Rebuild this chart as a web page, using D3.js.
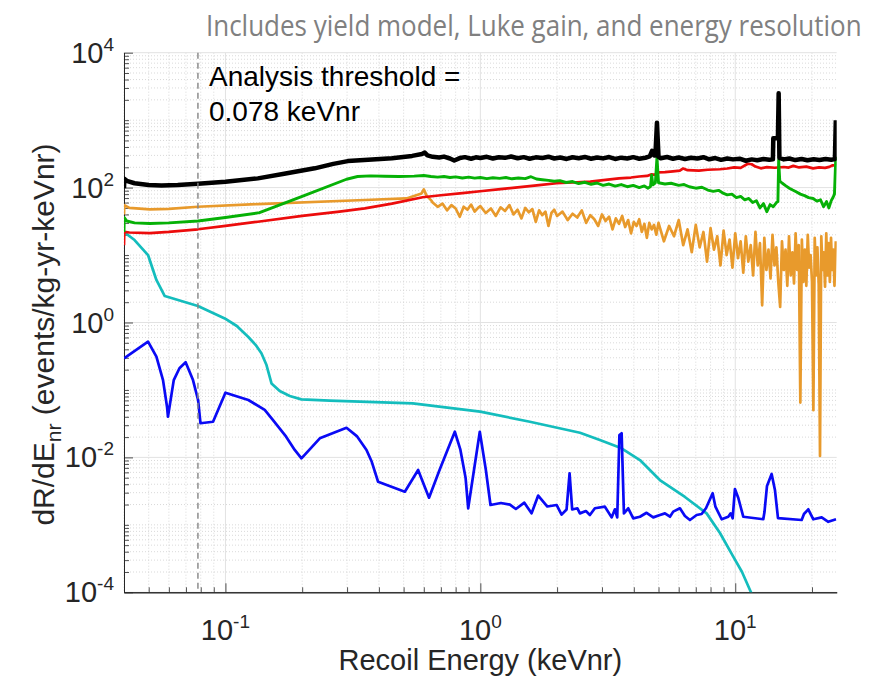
<!DOCTYPE html>
<html>
<head>
<meta charset="utf-8">
<script src="https://cdn.jsdelivr.net/npm/d3@7"></script>
<style>
  html, body { margin: 0; padding: 0; background: #fff; }
  svg { display: block; }
</style>
</head>
<body>
<svg id="chart" width="872" height="679"></svg>
<script>
// ---- Spectra: [recoil energy (keVnr), rate (events/kg-yr-keVnr)] ----

// Total rate (sum of all components)
const totalRate = [
  [0.0400, 98], [0.0401, 135], [0.0410, 126], [0.0440, 116], [0.0500, 109], [0.0561, 107],
  [0.0650, 109], [0.0780, 114], [0.100, 122], [0.134, 137], [0.170, 160], [0.224, 193],
  [0.265, 225], [0.302, 247], [0.350, 256], [0.450, 272], [0.540, 295], [0.590, 315],
  [0.605, 330], [0.620, 300], [0.65, 286], [0.69, 279], [0.72, 288], [0.76, 270], [0.79, 252],
  [0.83, 274], [0.87, 283], [0.92, 268], [0.96, 281], [1.00, 274], [1.06, 286], [1.12, 270],
  [1.18, 282], [1.25, 276], [1.32, 289], [1.40, 272], [1.48, 283], [1.56, 268], [1.65, 281],
  [1.75, 275], [1.85, 287], [1.95, 270], [2.06, 279], [2.18, 266], [2.30, 282], [2.43, 273],
  [2.57, 285], [2.72, 268], [2.87, 280], [3.03, 271], [3.20, 284], [3.38, 266], [3.57, 278],
  [3.77, 270], [3.98, 283], [4.20, 268], [4.44, 277], [4.62, 290], [4.72, 352], [4.80, 300],
  [4.86, 300], [4.93, 916], [5.00, 285], [5.10, 272], [5.40, 284], [5.70, 268], [6.00, 279],
  [6.35, 265], [6.70, 277], [7.10, 270], [7.50, 282], [7.90, 263], [8.35, 274], [8.80, 258],
  [9.30, 270], [9.80, 262], [10.4, 268], [11.0, 250], [11.6, 262], [12.2, 255], [12.9, 266],
  [13.6, 258], [14.05, 262], [14.1, 540], [14.7, 545], [14.8, 2500], [14.9, 275], [15.5, 262],
  [16.3, 270], [17.2, 256], [18.2, 266], [19.2, 254], [20.3, 264], [21.4, 257], [22.6, 266],
  [23.8, 258], [24.6, 265], [24.8, 995]
];

// Green component
const greenRate = [
  [0.0400, 22], [0.0401, 36], [0.0410, 32], [0.0440, 30], [0.0505, 29.4], [0.060, 30],
  [0.078, 32], [0.100, 36], [0.136, 42.5], [0.200, 74], [0.2985, 133], [0.33, 146],
  [0.37, 149], [0.42, 147], [0.48, 146], [0.55, 148], [0.60, 151], [0.64, 146], [0.68, 143],
  [0.72, 146], [0.76, 141], [0.80, 144], [0.85, 139], [0.90, 143], [0.95, 138], [1.00, 141],
  [1.06, 136], [1.12, 140], [1.19, 137], [1.26, 141], [1.33, 135], [1.41, 139], [1.50, 136],
  [1.58, 145], [1.66, 134], [1.75, 131], [1.85, 128], [1.95, 124], [2.05, 127], [2.17, 119],
  [2.30, 123], [2.43, 115], [2.57, 120], [2.72, 112], [2.87, 117], [3.03, 108], [3.20, 113],
  [3.38, 105], [3.57, 111], [3.77, 103], [3.98, 108], [4.20, 100], [4.40, 106], [4.55, 98],
  [4.65, 104], [4.70, 154], [4.75, 110], [4.86, 118], [4.93, 281], [5.00, 118], [5.3, 113],
  [5.6, 116], [6.0, 108], [6.3, 111], [6.6, 103], [7.0, 98], [7.4, 101], [7.8, 92], [8.2, 88],
  [8.6, 91], [9.0, 82], [9.3, 78], [9.7, 80], [10.1, 71], [10.5, 74], [10.9, 66], [11.3, 69],
  [11.7, 60], [12.1, 64], [12.5, 50], [12.9, 58], [13.3, 44], [13.7, 56], [14.1, 52],
  [14.5, 60], [14.7, 62], [14.8, 256], [14.95, 125], [15.3, 116], [15.8, 106], [16.3, 98],
  [16.8, 92], [17.4, 86], [18.0, 80], [18.7, 76], [19.4, 71], [20.2, 69], [20.9, 63],
  [21.6, 66], [22.2, 52], [22.8, 62], [23.3, 50], [23.8, 64], [24.2, 72], [24.5, 80], [24.8, 287]
];

// Red component
const redRate = [
  [0.0400, 14], [0.0401, 22], [0.0420, 21.6], [0.0505, 21.2], [0.060, 22], [0.078, 24.1],
  [0.100, 27], [0.134, 31.2], [0.200, 38], [0.280, 44], [0.352, 49.3], [0.450, 58],
  [0.594, 72], [0.700, 77], [0.850, 83], [1.02, 89], [1.20, 95], [1.40, 101], [1.70, 109],
  [1.99, 116], [2.30, 119], [2.70, 123], [3.10, 130], [3.50, 137], [3.90, 141], [4.20, 146],
  [4.50, 149], [4.70, 157], [4.85, 155], [4.95, 168], [5.3, 170], [5.7, 174], [6.06, 178],
  [6.25, 192], [6.5, 181], [7.2, 178], [7.8, 184], [8.7, 187], [9.3, 192], [9.9, 200],
  [10.5, 196], [11.2, 226], [11.6, 222], [12.0, 205], [12.6, 193], [13.3, 201], [14.3, 197],
  [15.5, 202], [16.2, 198], [16.9, 210], [17.8, 199], [19.0, 205], [20.2, 193], [21.3, 200],
  [22.5, 196], [23.4, 203], [24.0, 213], [24.5, 213]
];

// Orange component
const orangeRate = [
  [0.0400, 40], [0.0401, 55], [0.0420, 50], [0.0505, 47.7], [0.060, 48.5], [0.078, 52],
  [0.134, 57], [0.352, 65.5], [0.513, 69], [0.588, 82], [0.600, 94], [0.615, 76], [0.643, 64],
  [0.65, 60], [0.68, 52], [0.71, 58], [0.74, 46], [0.77, 55], [0.80, 49], [0.83, 37], [0.86, 52],
  [0.89, 47], [0.92, 56], [0.95, 44], [0.98, 50], [1.00, 53], [1.05, 42], [1.10, 49], [1.15, 38],
  [1.20, 51], [1.25, 45], [1.30, 55], [1.35, 40], [1.40, 47], [1.45, 35], [1.50, 50], [1.55, 43],
  [1.60, 48], [1.65, 31], [1.70, 46], [1.75, 39], [1.80, 44], [1.85, 27], [1.90, 42], [1.95, 47],
  [2.0, 38], [2.1, 44], [2.2, 33], [2.3, 41], [2.4, 36], [2.5, 46], [2.6, 30], [2.7, 39],
  [2.8, 34], [2.9, 27], [3.0, 40], [3.1, 32], [3.2, 37], [3.3, 24], [3.4, 35], [3.5, 29],
  [3.6, 38], [3.7, 26], [3.8, 33], [3.9, 21], [4.0, 31], [4.1, 27], [4.2, 34], [4.3, 22],
  [4.4, 29], [4.5, 18], [4.6, 30], [4.7, 24], [4.8, 28], [4.9, 20],
  [5.00, 30], [5.25, 16], [5.50, 27], [5.75, 19], [6.00, 33], [6.25, 14], [6.50, 24], [6.75, 11],
  [7.00, 28], [7.25, 13], [7.50, 22], [7.75, 8], [8.00, 25], [8.25, 12], [8.50, 19], [8.75, 7],
  [9.00, 23], [9.25, 10], [9.50, 17], [9.75, 6.5], [10.00, 21], [10.25, 9], [10.50, 16], [10.75, 5.5],
  [11.00, 19], [11.25, 8], [11.50, 14], [11.75, 5], [12.00, 22], [12.25, 7], [12.50, 15], [12.75, 1.8],
  [13.00, 18], [13.25, 6], [13.50, 12], [13.75, 4.5], [14.00, 20], [14.25, 7], [14.50, 13], [14.75, 4],
  [15.00, 1.7], [15.25, 16], [15.50, 6], [15.75, 12], [16.00, 3.5], [16.25, 19], [16.50, 5], [16.75, 11],
  [17.00, 3.8], [17.25, 21], [17.50, 6], [17.75, 14], [18.00, 0.065], [18.25, 17], [18.50, 4], [18.75, 12],
  [19.00, 3.5], [19.25, 20], [19.50, 6.5], [19.75, 10], [20.00, 4], [20.25, 0.05], [20.50, 18], [20.75, 5],
  [21.00, 13], [21.25, 3.6], [21.50, 0.0105], [21.75, 19], [22.00, 6], [22.25, 11], [22.50, 3.4], [22.75, 21],
  [23.00, 5], [23.25, 15], [23.50, 4], [23.75, 18], [24.00, 6], [24.25, 12], [24.50, 3.5], [24.80, 16]
];

// Cyan component
const cyanRate = [
  [0.0400, 22], [0.0440, 16.7], [0.0497, 10], [0.0536, 4.27], [0.0578, 2.47], [0.078, 1.76],
  [0.0994, 1.15], [0.1108, 0.887], [0.1227, 0.615], [0.1315, 0.463], [0.1384, 0.349],
  [0.1449, 0.234], [0.1516, 0.125], [0.1633, 0.0964], [0.1788, 0.0813], [0.1986, 0.0726],
  [0.2564, 0.0693], [0.543, 0.0634], [0.998, 0.0476], [1.564, 0.0338], [2.46, 0.0232],
  [2.944, 0.0181], [3.58, 0.01364], [4.227, 0.00914], [5.06, 0.00462], [6.347, 0.00259],
  [7.72, 0.00148], [8.71, 0.000757], [9.82, 0.000337], [10.63, 0.0002], [11.5, 0.000102],
  [11.95, 0.000069]
];

// Blue component
const blueRate = [
  [0.0400, 0.294], [0.0497, 0.519], [0.0536, 0.311], [0.0569, 0.140], [0.0590, 0.0565],
  [0.0595, 0.0401], [0.0627, 0.140], [0.0660, 0.210], [0.0698, 0.257], [0.0746, 0.140],
  [0.0781, 0.071], [0.0798, 0.0321], [0.0894, 0.0338], [0.1000, 0.091], [0.1230, 0.071],
  [0.1426, 0.0505], [0.1537, 0.0358], [0.1730, 0.0203], [0.187, 0.0129], [0.1987, 0.0097],
  [0.2345, 0.0192], [0.2985, 0.0275], [0.3276, 0.0207], [0.3576, 0.0129], [0.375, 0.0086],
  [0.397, 0.00436], [0.5055, 0.0031], [0.570, 0.0065], [0.629, 0.00253], [0.6935, 0.00667],
  [0.794, 0.024], [0.835, 0.0130], [0.875, 0.0050], [0.896, 0.00176], [0.995, 0.024],
  [1.051, 0.0065], [1.096, 0.00197], [1.204, 0.00211], [1.306, 0.0020], [1.378, 0.00172],
  [1.488, 0.00213], [1.588, 0.00148], [1.686, 0.00272], [1.832, 0.00187], [1.991, 0.00197],
  [2.083, 0.00142], [2.179, 0.00169], [2.239, 0.0058], [2.292, 0.00169], [2.403, 0.00176],
  [2.458, 0.00148], [2.594, 0.0016], [2.69, 0.0014], [2.814, 0.00176], [3.08, 0.00186],
  [3.273, 0.00129], [3.372, 0.0017], [3.443, 0.00129], [3.512, 0.0215], [3.583, 0.0228],
  [3.658, 0.00148], [3.803, 0.00176], [3.979, 0.00125], [4.227, 0.00132], [4.489, 0.00151],
  [4.767, 0.00129], [5.064, 0.0014], [5.298, 0.00148], [5.543, 0.00132], [5.71, 0.00157],
  [6.067, 0.00176], [6.347, 0.00135], [6.64, 0.00118], [7.055, 0.0014], [7.38, 0.00145],
  [7.674, 0.00176], [8.153, 0.00294], [8.36, 0.00186], [8.843, 0.00121], [9.386, 0.00132],
  [9.592, 0.00148], [9.767, 0.00125], [9.97, 0.0034], [10.28, 0.0025], [10.75, 0.00132],
  [12.88, 0.00121], [13.02, 0.00155], [13.32, 0.00377], [13.89, 0.00568], [14.31, 0.00329],
  [14.71, 0.00126], [18.22, 0.00118], [18.6, 0.00145], [19.34, 0.0017], [20.24, 0.00121],
  [21.83, 0.00129], [23.17, 0.00111], [24.85, 0.00121]
];

// Axis ranges, decade labels and the analysis threshold
const xDomain = [0.04, 25];
const yDomain = [1e-4, 1e4];
const xTickExps = [-1, 0, 1];
const yTickExps = [-4, -2, 0, 2, 4];
const thresholdE = 0.078;

const titleText = "Includes yield model, Luke gain, and energy resolution";
const xLabelText = "Recoil Energy (keVnr)";
const annotationLines = ["Analysis threshold =", "0.078 keVnr"];

// ---- Layout ----
const plot = { left: 124, right: 836.7, top: 52.7, bottom: 592.3 };
const svg = d3.select("#chart");
const axisFont = "'Liberation Sans', Arial, Helvetica, sans-serif";

const x = d3.scaleLog().domain(xDomain).range([plot.left, plot.right]);
const y = d3.scaleLog().domain(yDomain).range([plot.bottom, plot.top]);

// minor positions: every integer multiple inside each decade
function minorValues(domain, isMajor) {
  const out = [];
  const k0 = Math.floor(Math.log10(domain[0])), k1 = Math.ceil(Math.log10(domain[1]));
  for (let k = k0; k <= k1; k++) {
    for (let m = 1; m <= 9; m++) {
      const v = +(m * Math.pow(10, k)).toPrecision(6);
      if (v >= domain[0] * 0.9999 && v <= domain[1] * 1.0001 && !isMajor(m, k)) out.push(v);
    }
  }
  return out;
}
const xMajor = xTickExps.map(e => Math.pow(10, e));
const yMajor = yTickExps.map(e => Math.pow(10, e));
const xMinor = minorValues(xDomain, (m, k) => m === 1 && xTickExps.includes(k));
const yMinor = minorValues(yDomain, (m, k) => m === 1 && yTickExps.includes(k));

// ---- Grid ----
const grid = svg.append("g").attr("class", "grid");
grid.selectAll("line.xminor").data(xMinor).join("line")
  .attr("x1", d => x(d)).attr("x2", d => x(d)).attr("y1", plot.top).attr("y2", plot.bottom)
  .attr("stroke", "#cfcfcf").attr("stroke-width", 0.8).attr("stroke-dasharray", "1 2");
grid.selectAll("line.yminor").data(yMinor).join("line")
  .attr("x1", plot.left).attr("x2", plot.right).attr("y1", d => y(d)).attr("y2", d => y(d))
  .attr("stroke", "#cfcfcf").attr("stroke-width", 0.8).attr("stroke-dasharray", "1 2");
grid.selectAll("line.xmajor").data(xMajor).join("line")
  .attr("x1", d => x(d)).attr("x2", d => x(d)).attr("y1", plot.top).attr("y2", plot.bottom)
  .attr("stroke", "#e2e2e2").attr("stroke-width", 1);
grid.selectAll("line.ymajor").data(yMajor).join("line")
  .attr("x1", plot.left).attr("x2", plot.right).attr("y1", d => y(d)).attr("y2", d => y(d))
  .attr("stroke", "#e2e2e2").attr("stroke-width", 1);

// ---- Axes (ticks point inward) ----
const axisColor = "#262626";
function styleAxis(g) {
  g.select(".domain").attr("stroke", axisColor).attr("stroke-width", 1);
  g.selectAll(".tick line").attr("stroke", axisColor).attr("stroke-width", 0.8);
  g.selectAll(".tick text").remove();
}
svg.append("g").attr("transform", `translate(0,${plot.bottom})`)
  .call(d3.axisBottom(x).tickValues(xMinor).tickSizeInner(-5).tickSizeOuter(0).tickFormat(""))
  .call(styleAxis);
svg.append("g").attr("transform", `translate(0,${plot.bottom})`)
  .call(d3.axisBottom(x).tickValues(xMajor).tickSizeInner(-9).tickSizeOuter(0).tickFormat(""))
  .call(styleAxis);
svg.append("g").attr("transform", `translate(${plot.left},0)`)
  .call(d3.axisLeft(y).tickValues(yMinor).tickSizeInner(-5).tickSizeOuter(0).tickFormat(""))
  .call(styleAxis);
svg.append("g").attr("transform", `translate(${plot.left},0)`)
  .call(d3.axisLeft(y).tickValues(yMajor).tickSizeInner(-9).tickSizeOuter(0).tickFormat(""))
  .call(styleAxis);

// ---- Tick labels: 10 with superscript exponent ----
function powerLabel(sel, exp) {
  sel.append("tspan").text("10");
  sel.append("tspan").attr("dy", -12).attr("font-size", 19).text(exp);
}
yTickExps.forEach(e => {
  svg.append("text")
    .attr("x", plot.left - 10).attr("y", y(Math.pow(10, e)) + 10)
    .attr("text-anchor", "end").attr("font-family", axisFont).attr("font-size", 29)
    .attr("fill", axisColor)
    .call(powerLabel, e);
});
xTickExps.forEach(e => {
  svg.append("text")
    .attr("x", x(Math.pow(10, e))).attr("y", 640)
    .attr("text-anchor", "middle").attr("font-family", axisFont).attr("font-size", 29)
    .attr("fill", axisColor)
    .call(powerLabel, e);
});

// ---- Axis labels and title ----
svg.append("text")
  .attr("x", (plot.left + plot.right) / 2).attr("y", 670)
  .attr("text-anchor", "middle").attr("font-family", axisFont).attr("font-size", 29)
  .attr("fill", axisColor).text(xLabelText);

const yLab = svg.append("text")
  .attr("transform", `translate(54,${(plot.top + plot.bottom) / 2 + 12}) rotate(-90)`)
  .attr("text-anchor", "middle").attr("font-family", axisFont).attr("font-size", 30)
  .attr("fill", axisColor);
yLab.append("tspan").text("dR/dE");
yLab.append("tspan").attr("font-size", 21).attr("dy", 7).text("nr");
yLab.append("tspan").attr("dy", -7).text(" (events/kg-yr-keVnr)");

// Title: narrow the glyphs horizontally so the line spans 206..862
const titleWidth = 656;
const title = svg.append("text")
  .attr("x", 0).attr("y", 0)
  .attr("font-family", "'Open Sans', 'Noto Sans', sans-serif").attr("font-size", 30)
  .attr("fill", "#808080")
  .text(titleText);
const naturalWidth = title.node().getComputedTextLength();
title.attr("transform", `translate(206,36) scale(${titleWidth / naturalWidth},1)`);

// ---- Data lines ----
svg.append("defs").append("clipPath").attr("id", "plotClip")
  .append("rect").attr("x", plot.left).attr("y", plot.top)
  .attr("width", plot.right - plot.left).attr("height", plot.bottom - plot.top);

const line = d3.line().x(d => x(d[0])).y(d => y(d[1]));
const series = [
  { data: cyanRate,   color: "#14bdbd", width: 2.7 },
  { data: blueRate,   color: "#0a0af5", width: 2.7 },
  { data: orangeRate, color: "#e89a2c", width: 2.7 },
  { data: redRate,    color: "#ec0c0c", width: 2.7 },
  { data: greenRate,  color: "#06b106", width: 2.9 },
  { data: totalRate,  color: "#000000", width: 4.5 }
];
const lines = svg.append("g").attr("clip-path", "url(#plotClip)");
series.forEach(s => {
  lines.append("path").datum(s.data)
    .attr("d", line).attr("fill", "none")
    .attr("stroke", s.color).attr("stroke-width", s.width)
    .attr("stroke-linejoin", "round").attr("stroke-linecap", "butt");
});

// ---- Analysis threshold ----
svg.append("line")
  .attr("x1", x(thresholdE)).attr("x2", x(thresholdE))
  .attr("y1", plot.top).attr("y2", plot.bottom)
  .attr("stroke", "#858585").attr("stroke-width", 1.4).attr("stroke-dasharray", "6 4");

svg.append("g").selectAll("text").data(annotationLines).join("text")
  .attr("x", 209).attr("y", (d, i) => 86 + i * 35)
  .attr("font-family", axisFont).attr("font-size", 28).attr("fill", "#000")
  .text(d => d);
</script>
</body>
</html>
